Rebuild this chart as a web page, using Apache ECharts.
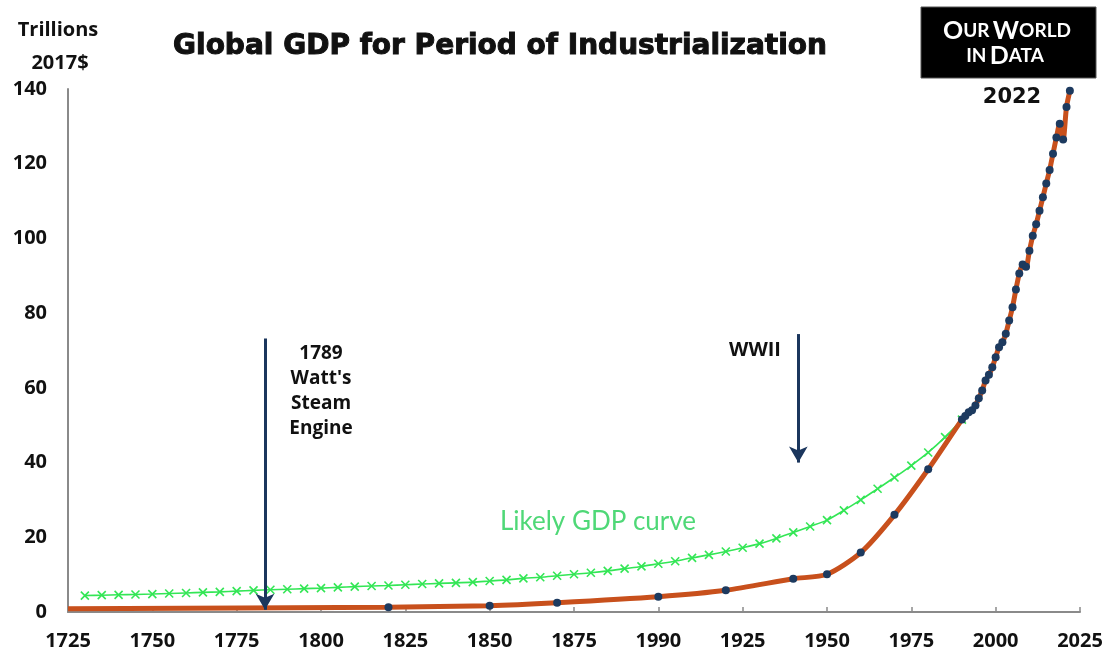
<!DOCTYPE html>
<html>
<head>
<meta charset="utf-8">
<script src="https://cdn.jsdelivr.net/npm/echarts@6/dist/echarts.min.js"></script>
<style>
html,body{margin:0;padding:0;background:#fff;}
#chart{width:1117px;height:656px;}
</style>
</head>
<body>
<div id="chart"></div>
<script>
// ---- data ----
var xTickLabels = ['1725','1750','1775','1800','1825','1850','1875','1990','1925','1950','1975','2000','2025'];
var yTickLabels = ['0','20','40','60','80','100','120','140'];

// Recorded GDP (trillions 2017$)
var gdpYears = [1725, 1820, 1850, 1870, 1900, 1920, 1940, 1950, 1960, 1970, 1980,
  1990, 1991, 1992, 1993, 1994, 1995, 1996, 1997, 1998, 1999,
  2000, 2001, 2002, 2003, 2004, 2005, 2006, 2007, 2008, 2009,
  2010, 2011, 2012, 2013, 2014, 2015, 2016, 2017, 2018, 2019,
  2020, 2021, 2022];
var gdpValues = [0.9, 1.3, 1.7, 2.5, 4.1, 5.8, 8.9, 10.1, 15.9, 26.0, 38.2,
  51.5, 52.5, 53.5, 54.0, 55.3, 57.2, 59.3, 62.0, 63.5, 65.5,
  68.2, 70.9, 72.2, 74.5, 78.0, 81.6, 86.3, 90.6, 93.0, 92.4,
  96.7, 100.7, 103.8, 107.4, 111.0, 114.7, 118.3, 122.7, 127.0, 130.7,
  126.5, 135.2, 139.5];

// "Likely GDP curve"
var likelyYears = [1730,1735,1740,1745,1750,1755,1760,1765,1770,1775,1780,1785,1790,1795,
  1800,1805,1810,1815,1820,1825,1830,1835,1840,1845,1850,1855,1860,1865,1870,1875,
  1880,1885,1890,1895,1900,1905,1910,1915,1920,1925,1930,1935,1940,1945,1950,1955,
  1960,1965,1970,1975,1980,1985,1990];
var likelyValues = [4.4,4.5,4.6,4.7,4.8,4.95,5.1,5.25,5.4,5.6,5.8,5.95,6.1,6.25,
  6.4,6.6,6.8,6.95,7.1,7.3,7.5,7.65,7.8,8.0,8.3,8.6,9.0,9.3,9.7,10.1,
  10.5,11.0,11.6,12.2,12.9,13.6,14.5,15.3,16.2,17.2,18.3,19.7,21.3,22.9,24.6,27.2,
  30.0,33.0,36.0,39.2,42.7,46.8,51.5];

// Annotation arrows: [x, yStart, yEnd]
var steamArrow = [1783.4, 73.2, 0.6];
var wwiiArrow = [1941.5, 74.4, 40.0];

// ---- build ----
var gdpData = gdpYears.map(function (y, i) {
  var item = { value: [y, gdpValues[i]] };
  if (i === 0) item.symbol = 'none';
  return item;
});
var likelyData = likelyYears.map(function (y, i) { return [y, likelyValues[i]]; });

var labelFont = { fontFamily: 'Open Sans', fontWeight: 'bold', fontSize: 20, color: '#111' };

var chart = echarts.init(document.getElementById('chart'), null, { renderer: 'canvas' });
chart.setOption({
  backgroundColor: '#ffffff',
  animation: false,
  grid: { left: 68, right: 37, top: 89, bottom: 44, containLabel: false },
  xAxis: {
    type: 'value', min: 1725, max: 2025, interval: 25,
    axisLine: { show: true, lineStyle: { color: '#8a8a8a', width: 2 } },
    axisTick: { show: true, inside: true, length: 5, lineStyle: { color: '#8a8a8a', width: 1.5 } },
    splitLine: { show: false },
    axisLabel: Object.assign({ margin: 19, formatter: function (v) { return xTickLabels[Math.round((v - 1725) / 25)]; } }, labelFont)
  },
  yAxis: {
    type: 'value', min: 0, max: 140, interval: 20,
    axisLine: { show: true, lineStyle: { color: '#8a8a8a', width: 2 } },
    axisTick: { show: false },
    splitLine: { show: false },
    axisLabel: Object.assign({ margin: 21, formatter: function (v) { return yTickLabels[Math.round(v / 20)]; } }, labelFont)
  },
  series: [
    {
      type: 'line', name: 'Likely GDP curve', data: likelyData, smooth: 0.3,
      symbol: 'path://M0,0L10,10M10,0L0,10', symbolSize: 8,
      itemStyle: { color: 'rgba(0,0,0,0)', borderColor: '#33e655', borderWidth: 1.6 },
      lineStyle: { color: '#33e655', width: 1.6 },
      z: 2
    },
    {
      type: 'line', name: 'Global GDP', data: gdpData, smooth: 0.25,
      symbol: 'circle', symbolSize: 8, showSymbol: true,
      itemStyle: { color: '#1d3a5f' },
      lineStyle: { color: '#c8501c', width: 5 },
      z: 3,
      markLine: {
        silent: true, symbol: ['none', 'arrow'], symbolSize: [14, 16],
        lineStyle: { color: '#1b365d', width: 3, type: 'solid' },
        label: { show: false },
        data: [
          [{ coord: [steamArrow[0], steamArrow[1]] }, { coord: [steamArrow[0], steamArrow[2]] }],
          [{ coord: [wwiiArrow[0], wwiiArrow[1]] }, { coord: [wwiiArrow[0], wwiiArrow[2]] }]
        ]
      }
    }
  ],
  graphic: [
    { type: 'text', x: 500, y: 47, style: { text: 'Global GDP for Period of Industrialization', align: 'center', verticalAlign: 'middle', fontFamily: 'DejaVu Sans', fontWeight: 'bold', fontSize: 28, fill: '#111', stroke: '#111', lineWidth: 1 }, z: 10 },
    { type: 'text', x: 58, y: 30, style: { text: 'Trillions', align: 'center', verticalAlign: 'middle', fontFamily: 'Open Sans', fontWeight: 'bold', fontSize: 20, fill: '#111' } },
    { type: 'text', x: 60, y: 63, style: { text: '2017$', align: 'center', verticalAlign: 'middle', fontFamily: 'Open Sans', fontWeight: 'bold', fontSize: 20, fill: '#111' } },
    { type: 'rect', shape: { x: 921, y: 7, width: 175, height: 71 }, style: { fill: '#000', stroke: '#555', lineWidth: 1 } },
    { type: 'text', x: 1007, y: 31, style: { text: '{b|O}{s|UR} {b|W}{s|ORLD}', align: 'center', verticalAlign: 'middle', rich: { b: { fontFamily: 'Lato', fontWeight: 'bold', fontSize: 25, fill: '#fff' }, s: { fontFamily: 'Lato', fontWeight: 'bold', fontSize: 19, fill: '#fff' } } } },
    { type: 'text', x: 1005, y: 56, style: { text: '{s|IN} {b|D}{s|ATA}', align: 'center', verticalAlign: 'middle', rich: { b: { fontFamily: 'Lato', fontWeight: 'bold', fontSize: 25, fill: '#fff' }, s: { fontFamily: 'Lato', fontWeight: 'bold', fontSize: 19, fill: '#fff' } } } },
    { type: 'text', x: 1012, y: 98, style: { text: '2022', align: 'center', verticalAlign: 'middle', fontFamily: 'DejaVu Sans', fontWeight: 'bold', fontSize: 21, fill: '#111' } },
    { type: 'text', x: 321, y: 391, style: { text: '1789\nWatt\'s\nSteam\nEngine', align: 'center', verticalAlign: 'middle', lineHeight: 25, fontFamily: 'Open Sans', fontWeight: 'bold', fontSize: 19, fill: '#111' } },
    { type: 'text', x: 755, y: 350, style: { text: 'WWII', align: 'center', verticalAlign: 'middle', fontFamily: 'Open Sans', fontWeight: 'bold', fontSize: 20, fill: '#111' } },
    { type: 'text', x: 598, y: 522, style: { text: 'Likely GDP curve', align: 'center', verticalAlign: 'middle', fontFamily: 'Lato', fontSize: 26, fill: '#4fd877' } }
  ]
});
</script>
</body>
</html>
